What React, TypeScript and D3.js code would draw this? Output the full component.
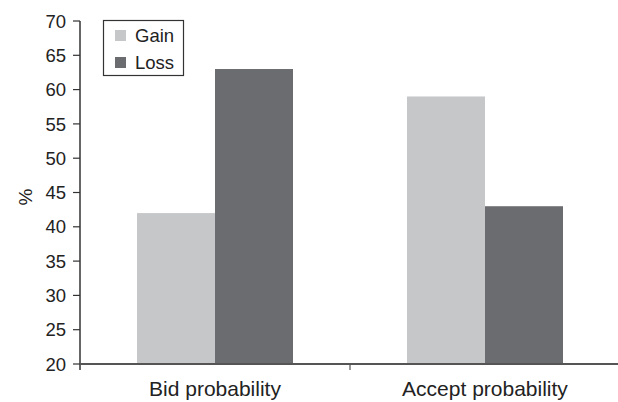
import React from "react";
import * as d3 from "d3";

const categories = ["Bid probability", "Accept probability"];
const seriesNames = ["Gain", "Loss"];
const gainValues = [42, 59];
const lossValues = [63, 43];
const yTicks = [20, 25, 30, 35, 40, 45, 50, 55, 60, 65, 70];
const colors = ["#c6c7c9", "#6b6c70"];

export default function App() {
  const W = 618, H = 402;
  const left = 80, right = 620, top = 21, bottom = 364;
  const x0 = d3.scaleBand().domain(categories).range([left, right]).paddingInner(0).paddingOuter(0);
  const x1 = d3.scaleBand().domain(seriesNames).range([0, 156]);
  const y = d3.scaleLinear().domain([20, 70]).range([bottom, top]);
  const series = [gainValues, lossValues];
  const font = "'Liberation Sans', Arial, sans-serif";
  return (
    <svg width={W} height={H} style={{ position: "absolute", left: 0, top: 0, background: "#fff" }} fontFamily={font}>
      {categories.map((c, i) => {
        const cx = x0(c)! + x0.bandwidth() / 2 - 78;
        return seriesNames.map((s, j) => (
          <rect key={c + s} x={cx + x1(s)!} y={y(series[j][i])} width={x1.bandwidth()} height={bottom - y(series[j][i])} fill={colors[j]} />
        ));
      })}
      <line x1={left} x2={left} y1={top} y2={370} stroke="#333" strokeWidth={1.5} />
      {yTicks.map(t => (
        <g key={t}>
          <line x1={left - 7} x2={left} y1={y(t)} y2={y(t)} stroke="#333" strokeWidth={1.2} />
          <text x={66} y={y(t)} dy="0.36em" textAnchor="end" fontSize={18.5} fill="#222">{t}</text>
        </g>
      ))}
      <line x1={left} x2={W} y1={bottom} y2={bottom} stroke="#555" strokeWidth={2} />
      <line x1={x0(categories[1])!} x2={x0(categories[1])!} y1={bottom} y2={370} stroke="#555" strokeWidth={1.2} />
      {categories.map(c => (
        <text key={c} x={x0(c)! + x0.bandwidth() / 2} y={396} textAnchor="middle" fontSize={21} fill="#222">{c}</text>
      ))}
      <text transform="translate(32,197) rotate(-90)" textAnchor="middle" fontSize={19} fill="#222">%</text>
      <rect x={103.5} y={20.5} width={80} height={55} fill="#fff" stroke="#333" strokeWidth={1.2} />
      {seriesNames.map((s, j) => (
        <g key={s}>
          <rect x={115} y={30 + j * 27} width={11} height={11} fill={colors[j]} />
          <text x={135} y={42 + j * 27} fontSize={18.5} fill="#222">{s}</text>
        </g>
      ))}
    </svg>
  );
}
